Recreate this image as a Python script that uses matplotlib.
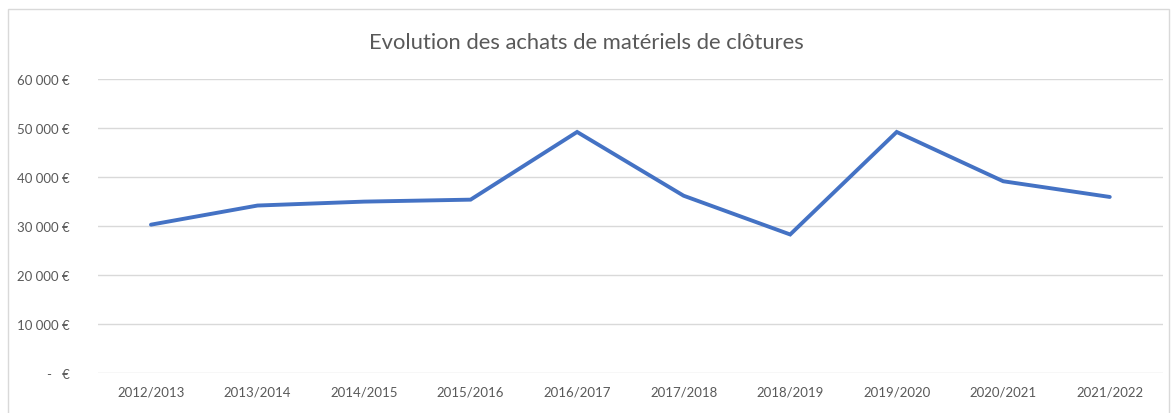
import matplotlib
matplotlib.use("Agg")
import matplotlib.pyplot as plt
from matplotlib.patches import Rectangle
from matplotlib.ticker import FuncFormatter

# données
campagnes = ["2012/2013", "2013/2014", "2014/2015", "2015/2016", "2016/2017",
             "2017/2018", "2018/2019", "2019/2020", "2020/2021", "2021/2022"]
achats = [30300, 34200, 35000, 35400, 49200, 36200, 28300, 49200, 39150, 35950]
yticks = [0, 10000, 20000, 30000, 40000, 50000, 60000]

plt.rcParams['font.family'] = ['Lato', 'DejaVu Sans']

fig = plt.figure(figsize=(11.73, 4.14), dpi=100)
ax = fig.add_axes([0.0833, 0.0959, 0.9915 - 0.0833, 0.8068 - 0.0959])

# cadre du graphique
fig.patches.append(Rectangle((8 / 1173, -0.01), 1161 / 1173, 0.985, transform=fig.transFigure,
                             fill=False, edgecolor="#d9d9d9", linewidth=1))

x = range(len(campagnes))
ax.plot(x, achats, color="#4472C4", linewidth=2.8, solid_capstyle="round", solid_joinstyle="miter")

ax.set_xlim(-0.5, len(campagnes) - 0.5)
ax.set_ylim(0, 60000)
ax.set_yticks(yticks)


def euro(v, pos):
    if v == 0:
        return "-   €"
    return "{:,.0f} €".format(v).replace(",", " ")


ax.yaxis.set_major_formatter(FuncFormatter(euro))
ax.set_xticks(list(x))
ax.set_xticklabels(campagnes)

ax.grid(axis="y", color="#d9d9d9", linewidth=1)
ax.set_axisbelow(True)
for s in ax.spines.values():
    s.set_visible(False)
ax.tick_params(length=0, labelsize=9.5, labelcolor="#595959")
ax.tick_params(axis="y", pad=20)
ax.tick_params(axis="x", pad=9)

fig.text(0.5, 0.895, "Evolution des achats de matériels de clôtures", ha="center", va="center",
         fontsize=15.8, color="#595959")

fig.savefig("out.png", dpi=100, facecolor="white")
